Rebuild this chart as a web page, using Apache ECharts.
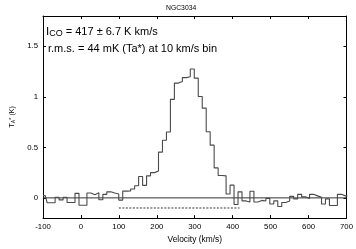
<!DOCTYPE html>
<html>
<head>
<meta charset="utf-8">
<script src="https://cdn.jsdelivr.net/npm/echarts@6/dist/echarts.min.js"></script>
<style>
html,body{margin:0;padding:0;background:#fff;}
#chart{width:356px;height:249px;}
</style>
</head>
<body>
<div id="chart"></div>
<script>
// Spectrum bin centres (km/s)
const velocity = [-94.2,-83.8,-73.3,-62.8,-52.3,-41.8,-31.4,-20.9,-10.4,0.1,
  10.6,21.0,31.5,42.0,52.5,63.0,73.4,83.9,94.4,104.9,
  115.4,125.8,136.3,146.8,157.3,167.8,178.2,188.7,199.2,209.7,
  220.2,230.6,241.1,251.6,262.1,272.6,283.0,293.5,304.0,314.5,
  325.0,335.4,345.9,356.4,366.9,377.4,387.8,398.3,408.8,419.3,
  429.8,440.2,450.7,461.2,471.7,482.2,492.6,503.1,513.6,524.1,
  534.6,545.0,555.5,566.0,576.5,587.0,597.4,607.9,618.4,628.9,
  639.4,649.8,660.3,670.8,681.3,691.8,702.2];
// Antenna temperature T_A* (K) per bin
const temperature = [0.022,-0.048,-0.048,0.006,-0.02,0.006,-0.045,-0.045,0.045,-0.073,
  -0.073,0.048,0.032,0.051,-0.019,0.035,0.06,0.048,0.038,-0.022,
  0.067,0.068,0.088,0.12,0.212,0.124,0.218,0.25,0.266,0.453,
  0.57,0.652,0.975,1.136,1.152,1.19,1.199,1.275,1.185,1.004,
  0.888,0.655,0.522,0.297,0.221,0.218,0.038,0.126,-0.066,0.06,
  -0.03,-0.04,0.065,-0.04,-0.025,-0.03,-0.005,-0.06,-0.03,-0.085,
  -0.045,-0.03,0.015,-0.01,0.035,0.01,-0.005,0.035,0.02,0.005,
  -0.06,-0.01,-0.075,-0.075,0.035,0.02,0.02];
// Baseline and integration window
const baselineLine = [[-100, 0], [700, 0]];
const windowLine = [[100, -0.1], [418, -0.1]];
const xTicks = [-100, 0, 100, 200, 300, 400, 500, 600, 700];
const yTickValues = [0, 0.5, 1, 1.5];
const titleText = 'NGC3034';
const line1 = '{a|I}{b|CO} = 417 ± 6.7 K km/s';
const line2 = 'r.m.s. = 44 mK (Ta*) at 10 km/s bin';

const FONT = '"Liberation Sans", Arial, sans-serif';

const spectrum = [[-100, temperature[0]]];
for (let i = 0; i < velocity.length; i++) spectrum.push([velocity[i], temperature[i]]);

const chart = echarts.init(document.getElementById('chart'), null, {renderer: 'canvas'});
const axisLineStyle = {show: true, onZero: false, lineStyle: {color: '#000', width: 1}};
chart.setOption({
  animation: false,
  backgroundColor: '#fff',
  textStyle: {fontFamily: FONT},
  grid: {left: 35, right: 9, top: 16, bottom: 23},
  xAxis: [{
    type: 'value', min: xTicks[0], max: xTicks[xTicks.length - 1], interval: 100,
    position: 'bottom',
    axisLine: axisLineStyle,
    axisTick: {show: true, inside: true, length: 3, lineStyle: {color: '#000'}},
    axisLabel: {show: true, color: '#000', fontSize: 7.8, fontFamily: FONT, margin: 5},
    splitLine: {show: false},
    name: 'Velocity (km/s)', nameLocation: 'middle', nameGap: 15,
    nameTextStyle: {color: '#000', fontSize: 8.4, fontFamily: FONT}
  }, {
    type: 'value', min: xTicks[0], max: xTicks[xTicks.length - 1], interval: 100,
    position: 'top',
    axisLine: axisLineStyle,
    axisTick: {show: true, inside: true, length: 3, lineStyle: {color: '#000'}},
    axisLabel: {show: false},
    splitLine: {show: false}
  }],
  yAxis: [{
    type: 'value', min: -0.2, max: 1.8,
    position: 'left',
    axisLine: axisLineStyle,
    axisTick: {show: true, inside: true, length: 3, customValues: yTickValues, lineStyle: {color: '#000'}},
    axisLabel: {show: true, color: '#000', fontSize: 7.8, fontFamily: FONT, margin: 5, customValues: yTickValues},
    splitLine: {show: false},
    name: '{t|T}{s|A}{u|*} (K)', nameLocation: 'middle', nameGap: 27, nameRotate: 90,
    nameTextStyle: {color: '#000', fontSize: 7, fontFamily: FONT,
      rich: {
        t: {fontSize: 7.5, fontFamily: FONT, color: '#000'},
        s: {fontSize: 5, fontFamily: FONT, color: '#000', verticalAlign: 'bottom', padding: [3, 0, 0, 0]},
        u: {fontSize: 6, fontFamily: FONT, color: '#000', verticalAlign: 'top'}
      }}
  }, {
    type: 'value', min: -0.2, max: 1.8,
    position: 'right',
    axisLine: axisLineStyle,
    axisTick: {show: true, inside: true, length: 3, customValues: yTickValues, lineStyle: {color: '#000'}},
    axisLabel: {show: false},
    splitLine: {show: false}
  }],
  title: {
    text: titleText, left: 161, top: 0,
    textStyle: {fontSize: 6.8, fontWeight: 'normal', color: '#000', fontFamily: FONT}
  },
  graphic: [{
    type: 'text', left: 46, top: 26,
    style: {
      text: line1, fill: '#000', font: '11px ' + FONT,
      rich: {
        a: {fontSize: 11.5, fontFamily: FONT, fill: '#000'},
        b: {fontSize: 9, fontFamily: FONT, fill: '#000', verticalAlign: 'bottom', padding: [2, 0, 0, 0]}
      }
    }
  }, {
    type: 'text', left: 48, top: 43,
    style: {text: line2, fill: '#000', font: '11px ' + FONT}
  }],
  series: [{
    type: 'line', data: baselineLine, xAxisIndex: 0, yAxisIndex: 0,
    showSymbol: false, lineStyle: {color: '#333', width: 1}, silent: true, z: 1
  }, {
    type: 'line', data: windowLine, xAxisIndex: 0, yAxisIndex: 0,
    showSymbol: false, lineStyle: {color: '#333', width: 1, type: [2, 1.5]}, silent: true, z: 1
  }, {
    type: 'line', data: spectrum, xAxisIndex: 0, yAxisIndex: 0,
    step: 'middle', showSymbol: false, clip: true,
    lineStyle: {color: '#4a4a4a', width: 1.1}, z: 2
  }]
});
</script>
</body>
</html>
